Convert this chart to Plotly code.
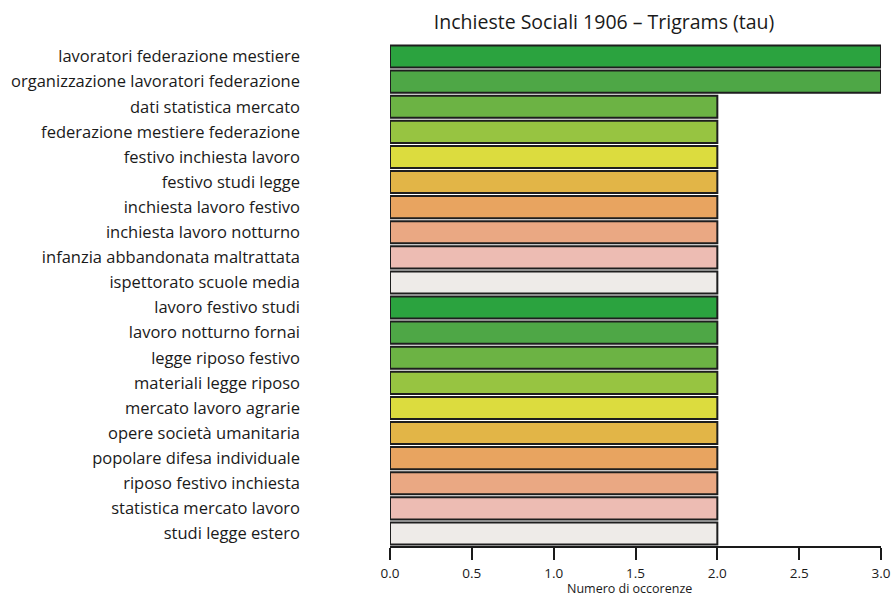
import plotly.graph_objects as go

categories = [
    "lavoratori federazione mestiere",
    "organizzazione lavoratori federazione",
    "dati statistica mercato",
    "federazione mestiere federazione",
    "festivo inchiesta lavoro",
    "festivo studi legge",
    "inchiesta lavoro festivo",
    "inchiesta lavoro notturno",
    "infanzia abbandonata maltrattata",
    "ispettorato scuole media",
    "lavoro festivo studi",
    "lavoro notturno fornai",
    "legge riposo festivo",
    "materiali legge riposo",
    "mercato lavoro agrarie",
    "opere società umanitaria",
    "popolare difesa individuale",
    "riposo festivo inchiesta",
    "statistica mercato lavoro",
    "studi legge estero",
]
counts = [3, 3, 2, 2, 2, 2, 2, 2, 2, 2, 2, 2, 2, 2, 2, 2, 2, 2, 2, 2]
palette = ["#2ba33f", "#4ea746", "#6cb344", "#97c441", "#dcdc3e",
           "#e2b547", "#e8a460", "#eaa883", "#edbcb3", "#eeebe8"]
colors = [palette[i % len(palette)] for i in range(len(categories))]
tick_vals = [0, 0.5, 1, 1.5, 2, 2.5, 3]

FONT = "Open Sans"

fig = go.Figure(go.Bar(
    x=counts, y=categories, orientation="h",
    marker=dict(color=colors, line=dict(color="#1e1e1e", width=2)),
    hoverinfo="x+y",
))

fig.update_layout(
    width=892, height=596,
    margin=dict(l=390, r=11, t=44, b=50, autoexpand=False),
    paper_bgcolor="white", plot_bgcolor="white",
    bargap=0.12,
    showlegend=False,
    font=dict(family=FONT, color="#1a1a1a"),
    title=dict(text="Inchieste Sociali 1906 – Trigrams (tau)",
               x=0.436, xref="paper", xanchor="center",
               y=0.963, yanchor="middle",
               font=dict(size=19.5, family=FONT, color="#1a1a1a")),
)

fig.update_xaxes(
    range=[0, 3], tickvals=tick_vals, tickformat=".1f",
    showgrid=False, zeroline=False, automargin=False,
    showline=True, linecolor="#1a1a1a", linewidth=2,
    ticks="outside", ticklen=12, tickwidth=2, tickcolor="#1a1a1a",
    ticklabelstandoff=2,
    tickfont=dict(size=13.5, family=FONT, color="#1a1a1a"),
)
fig.update_yaxes(
    categoryorder="array", categoryarray=categories, autorange="reversed",
    showgrid=False, zeroline=False, showline=False, ticks="", automargin=False,
    ticklabelstandoff=89,
    tickfont=dict(size=16.5, family=FONT, color="#1a1a1a"),
)

fig.add_annotation(
    text="Numero di occorenze", xref="paper", yref="paper",
    x=0.488, y=0, yanchor="top", yshift=-33, showarrow=False,
    borderpad=0,
    font=dict(size=12.5, family=FONT, color="#1a1a1a"),
)

fig.write_html(
    "out.html",
    config={"displayModeBar": False},
    post_script="document.body.style.margin='0';"
                "document.documentElement.style.overflow='hidden';",
)
